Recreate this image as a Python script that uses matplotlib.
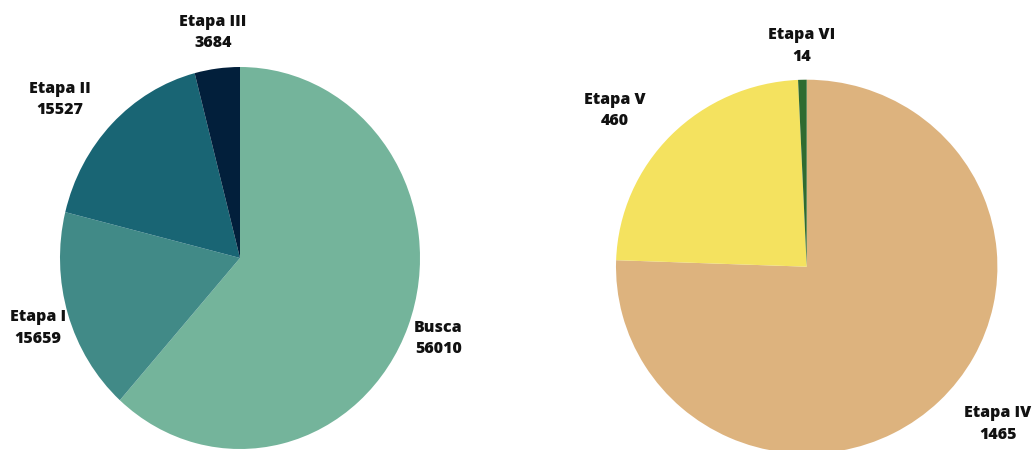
import numpy as np
import matplotlib
matplotlib.use("Agg")
import matplotlib.pyplot as plt

# left pie: search + first stages
left_labels = ["Busca", "Etapa I", "Etapa II", "Etapa III"]
left_values = [56010, 15659, 15527, 3684]
left_colors = ["#74b49b", "#418a87", "#196574", "#021f3b"]

# right pie: later stages
right_labels = ["Etapa IV", "Etapa V", "Etapa VI"]
right_values = [1465, 460, 14]
right_colors = ["#ddb37e", "#f4e25f", "#2f6b30"]

# label placement: distance from centre and angle tweak (degrees)
left_lab_dist = [1.18, 1.18, 1.30, 1.19]
left_lab_shift = [0, 1, 5, 0]
right_lab_dist = [1.31, 1.31, 1.18]
right_lab_shift = [6, 5, 0]


def draw_pie(ax, labels, values, colors, dists, shifts):
    wedges, _ = ax.pie(values, colors=colors, startangle=90, counterclock=False,
                       radius=1, wedgeprops=dict(linewidth=0))
    ax.set_aspect("auto")
    ax.set_xlim(-1, 1)
    ax.set_ylim(-1, 1)
    ax.axis("off")
    for w, lab, val, d, s in zip(wedges, labels, values, dists, shifts):
        mid = np.deg2rad((w.theta1 + w.theta2) / 2 + s)
        ax.text(d * np.cos(mid), d * np.sin(mid), f"{lab}\n{val}",
                ha="center", va="center", fontsize=11.5, fontweight=800,
                family=["Open Sans", "DejaVu Sans"], color="#111111",
                linespacing=1.45, clip_on=False)


fig = plt.figure(figsize=(10.34, 4.5), dpi=100)
fig.patch.set_facecolor("white")

W, H = 1034, 450
ax1 = fig.add_axes([(240 - 180) / W, (192 - 191) / H, 360 / W, 382 / H])
draw_pie(ax1, left_labels, left_values, left_colors, left_lab_dist, left_lab_shift)

ax2 = fig.add_axes([616 / W, (183.3 - 187) / H, 381.4 / W, 374 / H])
draw_pie(ax2, right_labels, right_values, right_colors, right_lab_dist, right_lab_shift)

fig.savefig("out.png", dpi=100)
